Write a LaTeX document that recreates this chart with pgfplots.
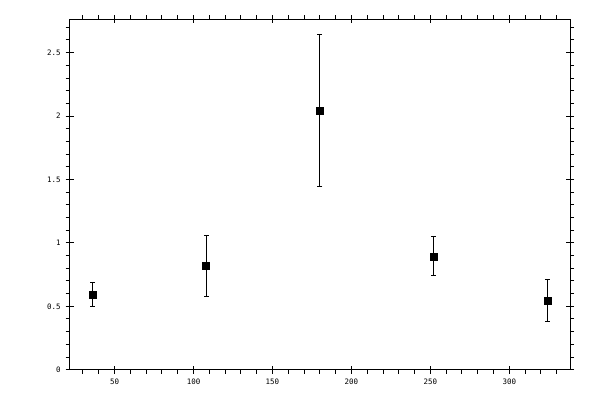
\documentclass[border=0pt]{standalone}
\usepackage{pgfplots}
\pgfplotsset{compat=1.18}
\usepackage{fontspec}
\setmainfont{DejaVu Sans Mono}
\begin{document}
\begin{tikzpicture}[x=1bp,y=1bp]
\useasboundingbox (0,0) rectangle (600,400);
\pgfplotsset{
  common/.style={
    at={(69.7bp,30.3bp)}, anchor=south west, scale only axis,
    width=500.3bp, height=350.4bp,
    xmin=21.6, xmax=338.4, ymin=0, ymax=2.763,
    xtick={50,100,150,200,250,300},
    ytick={0,0.5,1,1.5,2,2.5},
    axis line style={line width=1bp},
    every tick/.style={black, line width=1bp},
    /pgf/number format/assume math mode=true,
    tick label style={font=\fontsize{7.5}{8}\selectfont},
  }
}
\begin{axis}[common,
  minor xtick={30,40,60,70,80,90,110,120,130,140,160,170,180,190,210,220,230,240,260,270,280,290,310,320,330},
  minor ytick={0.1,0.2,0.3,0.4,0.6,0.7,0.8,0.9,1.1,1.2,1.3,1.4,1.6,1.7,1.8,1.9,2.1,2.2,2.3,2.4,2.6,2.7},
  tick align=outside,
  major tick length=4bp, minor tick length=4bp,
  yticklabel style={xshift=-1.5bp},
  xticklabel style={yshift=-1.5bp},
]
\addplot[only marks, mark=square*, mark size=3.5bp, black,
  error bars/.cd, y dir=both, y explicit,
  error bar style={line width=1bp, black},
  error mark options={rotate=90, mark size=2.4bp, line width=1bp, black}]
  coordinates {
  (36,0.595) +- (0,0.094)
  (108,0.820) +- (0,0.240)
  (180,2.045) +- (0,0.600)
  (252,0.894) +- (0,0.155)
  (324,0.547) +- (0,0.168)
  };
\end{axis}
\begin{axis}[common,
  tick align=inside, major tick length=4bp,
  xticklabels={}, yticklabels={},
]
\end{axis}
\end{tikzpicture}
\end{document}
